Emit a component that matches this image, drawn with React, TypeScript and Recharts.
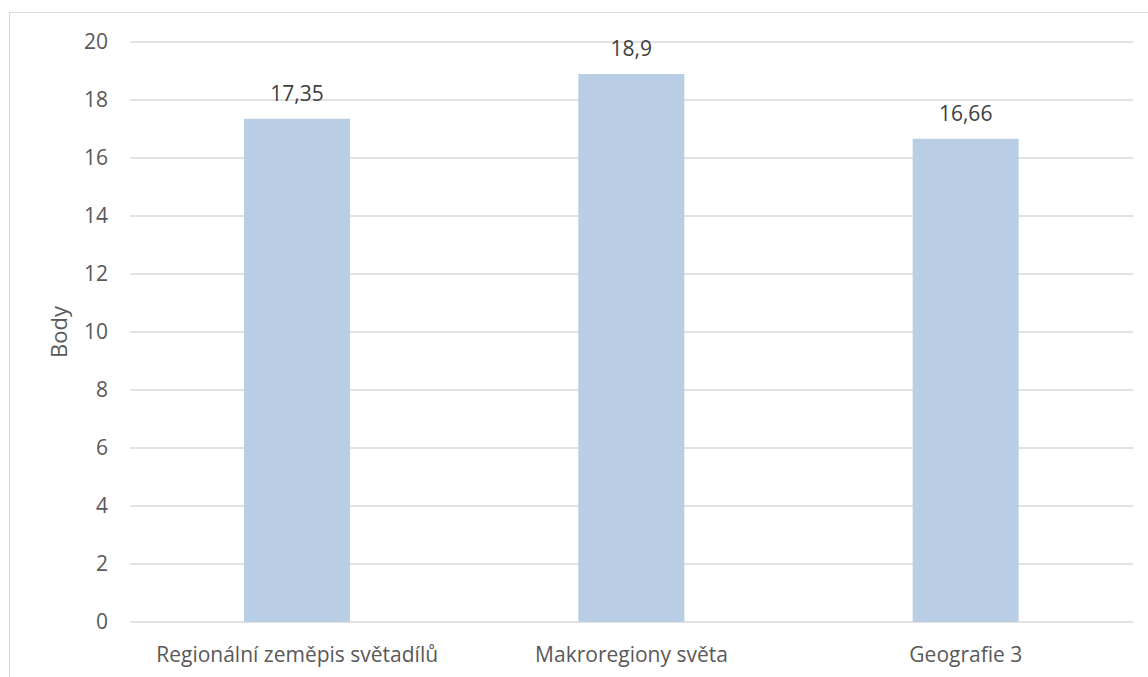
// Sloupcový graf — body podle předmětu
import { BarChart, Bar, XAxis, YAxis, CartesianGrid, LabelList } from 'recharts'

const subjects = ['Regionální zeměpis světadílů', 'Makroregiony světa', 'Geografie 3']
const points = [17.35, 18.9, 16.66]
const yTicks = [0, 2, 4, 6, 8, 10, 12, 14, 16, 18, 20]

const data = subjects.map((name, i) => ({ name, body: points[i] }))

const FONT = '"Open Sans", Lato, sans-serif'
const GRID = '#D9D9D9'
const TEXT = '#595959'

const czNumber = (v: unknown) => String(v).replace('.', ',')

function AxisTitle(props: any) {
  const vb = props.viewBox || {}
  const cx = (vb.x ?? 0) + 58
  const cy = (vb.y ?? 0) + (vb.height ?? 0) / 2
  return (
    <text
      x={cx}
      y={cy}
      transform={`rotate(-90 ${cx} ${cy})`}
      textAnchor="middle"
      dominantBaseline="central"
      fill={TEXT}
      fontSize={22}
      fontFamily={FONT}
    >
      Body
    </text>
  )
}

export default function App() {
  return (
    <div style={{ position: 'fixed', left: 0, top: 0, width: 1148, height: 677, background: '#fff', overflow: 'hidden' }}>
      <div
        style={{
          position: 'absolute',
          left: 9,
          top: 12,
          width: 1139,
          height: 665,
          borderTop: `1px solid ${GRID}`,
          borderLeft: `1px solid ${GRID}`,
        }}
      />
      <BarChart
        width={1148}
        height={677}
        data={data}
        margin={{ top: 42, right: 15, bottom: 0, left: 0 }}
        style={{ position: 'absolute', left: 0, top: 0, fontFamily: FONT }}
      >
        <CartesianGrid stroke={GRID} strokeWidth={1.5} vertical={false} />
        <XAxis
          dataKey="name"
          height={55}
          axisLine={false}
          tickLine={false}
          tickSize={0}
          tickMargin={25}
          interval={0}
          tick={{ fill: TEXT, fontSize: 21, fontFamily: FONT }}
        />
        <YAxis
          width={130}
          domain={[0, 20]}
          ticks={yTicks}
          axisLine={false}
          tickLine={false}
          tickSize={0}
          tickMargin={22}
          tick={{ fill: TEXT, fontSize: 21, fontFamily: FONT }}
          label={{ position: 'center', content: AxisTitle }}
        />
        <Bar dataKey="body" fill="#B9CDE5" barSize={106} isAnimationActive={false}>
          <LabelList
            dataKey="body"
            position="top"
            offset={18}
            formatter={czNumber}
            style={{ fill: '#404040', fontSize: 21, fontFamily: FONT }}
          />
        </Bar>
      </BarChart>
    </div>
  )
}
